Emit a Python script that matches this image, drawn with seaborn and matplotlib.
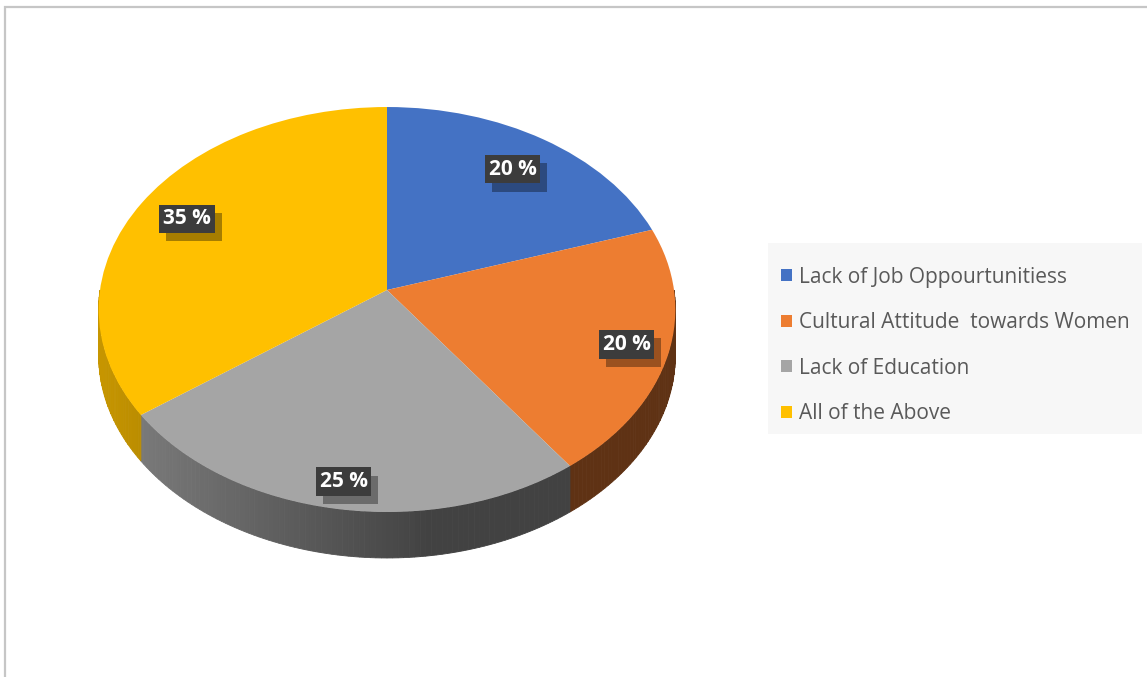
import numpy as np
import matplotlib
matplotlib.use("Agg")
import matplotlib.pyplot as plt
import matplotlib.transforms as mtransforms
import matplotlib.patheffects as pe
from matplotlib.patches import Polygon, Patch, Rectangle
import matplotlib.colors as mcolors
import seaborn as sns

categories = ["Lack of Job Oppourtunitiess", "Cultural Attitude  towards Women",
              "Lack of Education", "All of the Above"]
values = [20, 20, 25, 35]
pct_labels = ["20 %", "20 %", "25 %", "35 %"]
colors = ["#4472C4", "#ED7D31", "#A5A5A5", "#FFC000"]

sns.set_theme(style="white")
plt.rcParams["font.family"] = ["Open Sans", "DejaVu Sans"]

W, H = 1147, 677
fig = plt.figure(figsize=(W / 100, H / 100), dpi=100)
fig.patch.set_facecolor("white")

# layout (pixels)
cx, cy, rx, ry = 387, 290, 287, 200.6
xl = (-1.05, 1.05)
yl = (-1.4, 1.1)
left = cx - rx * 1.05
width = rx * 2.1
top = cy - ry * 1.1
height = ry * 2.5
ax = fig.add_axes([left / W, (H - (top + height)) / H, width / W, height / H])
depth = 46 / ry


class Persp(mtransforms.Transform):
    input_dims = 2
    output_dims = 2
    is_separable = False
    has_inverse = False

    def __init__(self, p):
        super().__init__()
        self.p = p

    def transform_non_affine(self, values):
        v = np.asarray(values, dtype=float)
        d = 1 + self.p * v[:, 1]
        return np.column_stack([v[:, 0] / d, v[:, 1] / d])


persp = Persp(0.0963)

fracs = np.array(values, dtype=float) / sum(values)
starts = 90 - 360 * np.concatenate([[0], np.cumsum(fracs)[:-1]])
ends = starts - 360 * fracs


def shade(x):
    return max(0.40, 0.45 - 0.33 * x)


# side walls (front half only)
for i in range(len(values)):
    lo = max(ends[i], -180)
    hi = min(starts[i], 0)
    if lo >= hi:
        continue
    base = np.array(mcolors.to_rgb(colors[i]))
    edges = np.append(np.arange(lo, hi, 1.0), hi)
    for t0, t1 in zip(edges[:-1], edges[1:]):
        th = np.radians(np.linspace(t0, t1, 4))
        rim = persp.transform(np.column_stack([np.cos(th), np.sin(th)]))
        us, vs = rim[:, 0], rim[:, 1]
        pts = np.column_stack([np.concatenate([us, us[::-1]]),
                               np.concatenate([vs, vs[::-1] - depth])])
        c = np.clip(base * shade(us.mean()), 0, 1)
        ax.add_patch(Polygon(pts, closed=True, fc=c, ec=c, lw=0.6))

wedges, _ = ax.pie(values, colors=colors, startangle=90, counterclock=False,
                   radius=1, wedgeprops=dict(linewidth=0))
for w in wedges:
    w.set_transform(persp + ax.transData)
ax.set_aspect("auto")
ax.set_xlim(*xl)
ax.set_ylim(*yl)
ax.axis("off")

label_r = [0.79, 0.855, 0.885, 0.81]
for i in range(len(values)):
    mid = np.radians((starts[i] + ends[i]) / 2)
    x, y = persp.transform(np.array([[label_r[i] * np.cos(mid),
                                      label_r[i] * np.sin(mid)]]))[0]
    t = ax.text(x, y, pct_labels[i], ha="center", va="center",
                fontsize=15, fontweight="bold", color="white",
                bbox=dict(boxstyle="square,pad=0.18", fc="#3c3c3c", ec="none"))
    t.get_bbox_patch().set_path_effects([
        pe.SimplePatchShadow(offset=(5, -6), shadow_rgbFace="black", alpha=0.35),
        pe.Normal()])

# legend background
fig.patches.append(Rectangle((768 / W, 1 - 434 / H), (1142 - 768) / W, (434 - 243) / H,
                             transform=fig.transFigure, fc="#f7f7f7", ec="none",
                             zorder=0))
handles = [Patch(fc=c, ec="none") for c in colors]
leg = fig.legend(handles, categories, loc="upper left",
                 bbox_to_anchor=(768 / W, 1 - 254 / H), frameon=False,
                 fontsize=15, labelcolor="#595959", handlelength=0.53,
                 handleheight=0.53, handletextpad=0.38, labelspacing=1.18,
                 borderpad=0.6, borderaxespad=0)

fig.patches.append(Rectangle((5 / W, -0.1), 1.2, (H - 7) / H + 0.1,
                             transform=fig.transFigure, fill=False,
                             ec="#c6c6c6", lw=1.6))

fig.savefig("out.png", dpi=100, facecolor="white")
